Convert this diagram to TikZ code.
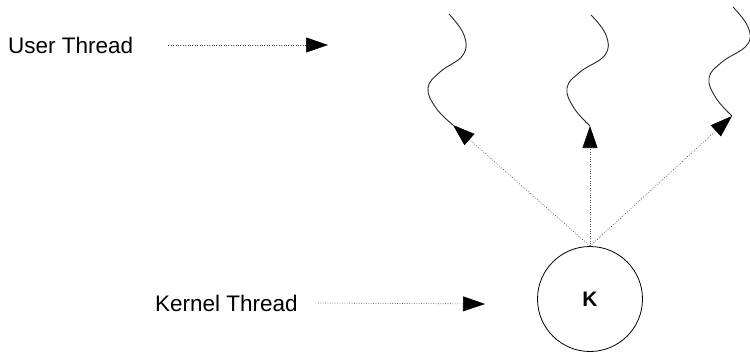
\documentclass[tikz,border=0pt]{standalone}
\usepackage{fontspec}
\setmainfont{Liberation Sans}
\usetikzlibrary{arrows.meta}
\begin{document}
\begin{tikzpicture}[x=1pt,y=-1pt,
  lbl/.style={anchor=west,inner sep=0pt,font=\fontsize{22.5}{26}\selectfont},
  dotline/.style={draw=black!70,line width=0.6pt,dash pattern=on 0.8pt off 1.6pt,-{Triangle[length=22pt,width=15pt,fill=black,color=black]}},
  wave/.style={draw=black!85,line width=0.9pt}]
\useasboundingbox (0,0) rectangle (750,351);
% labels
\node[lbl] (ut) at (8,45) {User Thread};
\node[lbl] (kt) at (155,303) {Kernel Thread};
\coordinate (utend) at (328,45);
\coordinate (ktend) at (485,304);
\draw[dotline] ([xshift=35pt]ut.east) -- (utend);
\draw[dotline] ([xshift=20pt]kt.east) -- (ktend);
% kernel thread
\node[circle,draw,line width=0.8pt,minimum size=105pt,inner sep=0pt,font=\bfseries\fontsize{21}{24}\selectfont] (K) at (590,299) {K};
% user threads (waves)
\coordinate (u1) at (453,125);
\coordinate (u2) at (590,126);
\coordinate (u3) at (732,116);
\draw[wave] plot[smooth,tension=0.7] coordinates {(449,14) (464,35) (463,55) (440,72) (428,88) (436,108) (u1)};
\draw[wave] plot[smooth,tension=0.7] coordinates {(591,15) (606,35) (605,55) (580,72) (567,88) (574,108) (u2)};
\draw[wave] plot[smooth,tension=0.7] coordinates {(733,7) (748,27) (747,45) (722,62) (709,78) (716,98) (u3)};
\draw[dotline] (K.north) -- (u1);
\draw[dotline] (K.north) -- (u2);
\draw[dotline] (K.north) -- (u3);
\end{tikzpicture}
\end{document}
